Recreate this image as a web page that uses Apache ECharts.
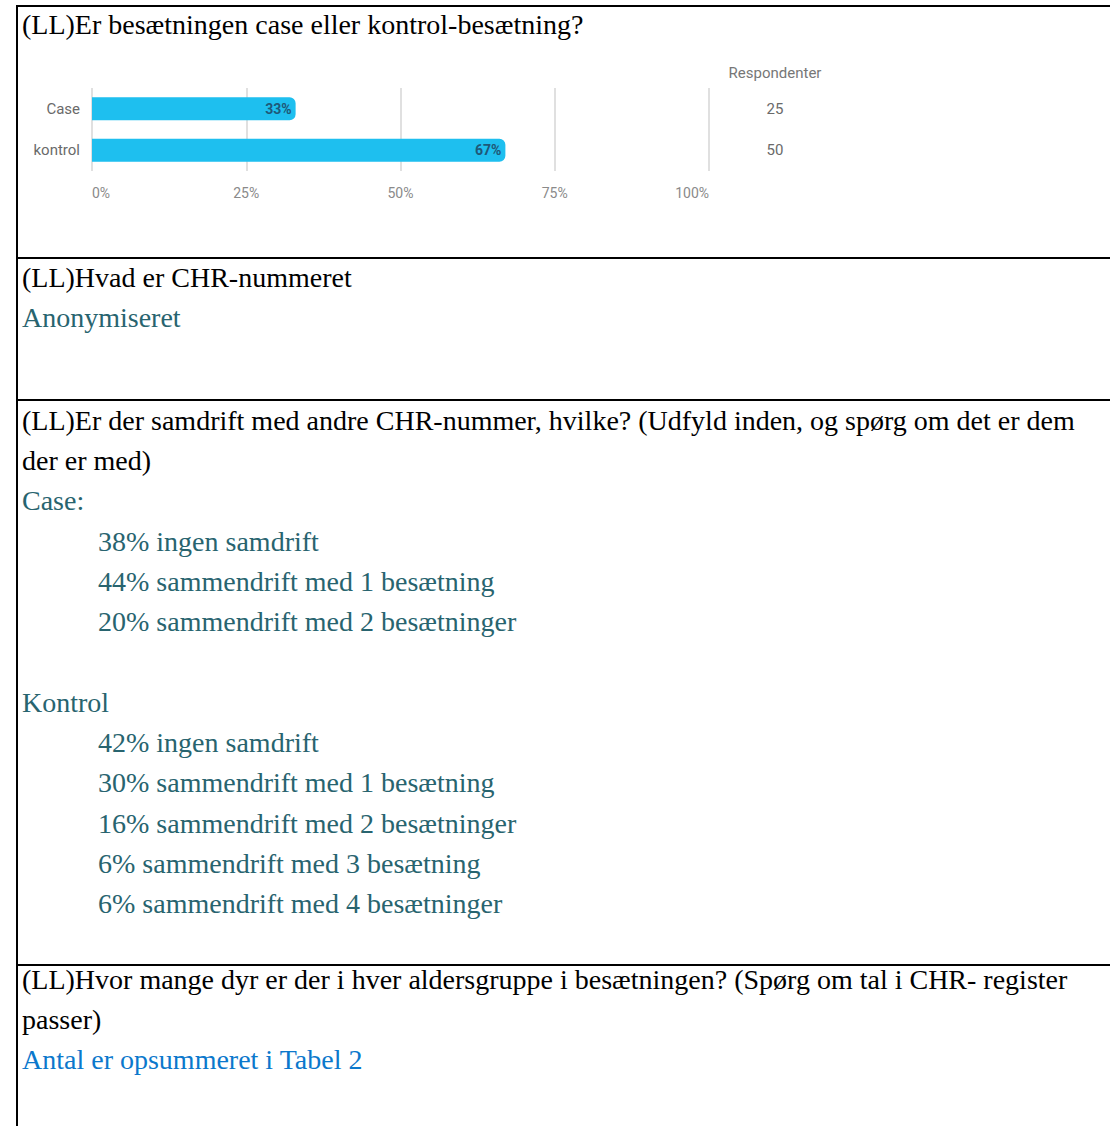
<!DOCTYPE html>
<html>
<head>
<meta charset="utf-8">
<script src="https://cdn.jsdelivr.net/npm/echarts@6/dist/echarts.min.js"></script>
<style>
  html, body { margin: 0; padding: 0; background: #fff; }
  #page { position: relative; width: 1110px; height: 1126px; overflow: hidden; background: #fff; }
  #chart { position: absolute; left: 0; top: 0; width: 1110px; height: 258px; }
  .hl { position: absolute; left: 16px; right: 0; height: 2px; background: #000; }
  .vl { position: absolute; left: 16px; top: 6px; bottom: 0; width: 2px; background: #000; }
  .t { position: absolute; left: 22px; height: 40px; line-height: 40px; white-space: nowrap;
       font-family: "Liberation Serif", "Times New Roman", serif; font-size: 28px; color: #000; }
  .a { color: #28646f; }
  .in { left: 98px; }
  .b { color: #0b78cc; }
</style>
</head>
<body>
<div id="page">
  <div id="chart"></div>
  <div class="hl" style="top:5px"></div>
  <div class="hl" style="top:257px"></div>
  <div class="hl" style="top:399px"></div>
  <div class="hl" style="top:964px"></div>
  <div class="vl"></div>

  <div class="t" style="top:5px">(LL)Er besætningen case eller kontrol-besætning?</div>

  <div class="t" style="top:258px">(LL)Hvad er CHR-nummeret</div>
  <div class="t a" style="top:298px">Anonymiseret</div>

  <div class="t" style="top:401px">(LL)Er der samdrift med andre CHR-nummer, hvilke? (Udfyld inden, og spørg om det er dem</div>
  <div class="t" style="top:441px">der er med)</div>
  <div class="t a" style="top:481px">Case:</div>
  <div class="t a in" style="top:522px">38% ingen samdrift</div>
  <div class="t a in" style="top:562px">44% sammendrift med 1 besætning</div>
  <div class="t a in" style="top:602px">20% sammendrift med 2 besætninger</div>
  <div class="t a" style="top:683px">Kontrol</div>
  <div class="t a in" style="top:723px">42% ingen samdrift</div>
  <div class="t a in" style="top:763px">30% sammendrift med 1 besætning</div>
  <div class="t a in" style="top:804px">16% sammendrift med 2 besætninger</div>
  <div class="t a in" style="top:844px">6% sammendrift med 3 besætning</div>
  <div class="t a in" style="top:884px">6% sammendrift med 4 besætninger</div>

  <div class="t" style="top:960px">(LL)Hvor mange dyr er der i hver aldersgruppe i besætningen? (Spørg om tal i CHR- register</div>
  <div class="t" style="top:1000px">passer)</div>
  <div class="t b" style="top:1040px">Antal er opsummeret i Tabel 2</div>
</div>
<script>
// Data
const categories = ['Case', 'kontrol'];
const percentages = [33, 67];
const respondents = [25, 50];
const xTicks = [0, 25, 50, 75, 100];
const respondentHeader = 'Respondenter';

// ECharts category y-axis puts the first item at the bottom, so reverse for top-down order
const cats = categories.slice().reverse();
const vals = percentages.slice().reverse();
const resp = respondents.slice().reverse().map(String);

const chart = echarts.init(document.getElementById('chart'), null, { renderer: 'svg' });
chart.setOption({
  animation: false,
  backgroundColor: 'transparent',
  grid: { left: 92, top: 88, width: 617, height: 83, containLabel: false },
  xAxis: {
    type: 'value', min: xTicks[0], max: xTicks[xTicks.length - 1], interval: 25,
    axisLine: { show: false }, axisTick: { show: false },
    splitLine: { show: true, lineStyle: { color: '#e0e0e0', width: 2 } },
    axisLabel: {
      formatter: '{value}%', color: '#8a8a8a', fontSize: 14, fontFamily: 'Roboto',
      margin: 15, alignMinLabel: 'left', alignMaxLabel: 'right'
    }
  },
  yAxis: [
    {
      type: 'category', data: cats,
      axisLine: { show: false }, axisTick: { show: false },
      axisLabel: { color: '#6a6a6a', fontSize: 15, fontFamily: 'Roboto', margin: 12 }
    },
    {
      type: 'category', data: resp, position: 'right', offset: 66,
      axisLine: { show: false }, axisTick: { show: false }, splitLine: { show: false },
      axisLabel: { color: '#6a6a6a', fontSize: 15, fontFamily: 'Roboto', margin: 0, align: 'center' },
      name: respondentHeader, nameLocation: 'end', nameGap: 15,
      nameTextStyle: { color: '#777', fontSize: 15, fontFamily: 'Roboto', align: 'center', verticalAlign: 'middle' }
    }
  ],
  series: [{
    type: 'bar', data: vals, barWidth: 23, yAxisIndex: 0,
    itemStyle: { color: '#1ebfef', borderRadius: [0, 6, 6, 0] },
    label: {
      show: true, position: 'insideRight', formatter: '{c}%', distance: 4,
      color: '#1f5878', fontSize: 14, fontWeight: 'bold', fontFamily: 'Roboto'
    }
  }]
});
</script>
</body>
</html>
